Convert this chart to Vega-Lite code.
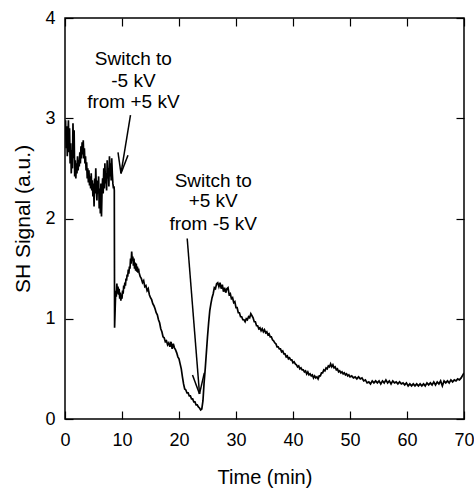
{
  "$schema": "https://vega.github.io/schema/vega-lite/v6.json",
  "width": 399,
  "height": 401,
  "autosize": "none",
  "padding": {"left": 65, "top": 18, "right": 10, "bottom": 69},
  "background": "white",
  "config": {
    "view": {"stroke": "black", "strokeWidth": 1.5},
    "axis": {
      "grid": false,
      "domain": false,
      "tickColor": "black",
      "tickSize": -8,
      "tickWidth": 1.2,
      "labelFlush": false,
      "labelFont": "Liberation Sans",
      "labelFontSize": 18,
      "labelColor": "black",
      "titleFont": "Liberation Sans",
      "titleFontSize": 20,
      "titleFontWeight": "normal",
      "titleColor": "black"
    }
  },
  "datasets": {
    "trace": [
      {"t":0.0,"v":2.85},{"t":0.1,"v":2.98},{"t":0.2,"v":2.70},{"t":0.3,"v":2.92},{"t":0.4,"v":2.62},{"t":0.5,"v":2.80},{"t":0.6,"v":2.98},{"t":0.7,"v":2.66},{"t":0.8,"v":2.90},{"t":0.9,"v":2.55},
      {"t":1.0,"v":2.75},{"t":1.1,"v":2.45},{"t":1.2,"v":2.68},{"t":1.3,"v":2.50},{"t":1.4,"v":2.95},{"t":1.5,"v":2.60},{"t":1.6,"v":2.88},{"t":1.7,"v":2.42},{"t":1.8,"v":2.58},{"t":1.9,"v":2.40},
      {"t":2.0,"v":2.55},{"t":2.1,"v":2.45},{"t":2.2,"v":2.62},{"t":2.3,"v":2.48},{"t":2.4,"v":2.58},{"t":2.5,"v":2.52},{"t":2.6,"v":2.66},{"t":2.7,"v":2.55},{"t":2.8,"v":2.72},{"t":2.9,"v":2.60},
      {"t":3.0,"v":2.76},{"t":3.1,"v":2.64},{"t":3.2,"v":2.78},{"t":3.3,"v":2.60},{"t":3.4,"v":2.70},{"t":3.5,"v":2.55},{"t":3.6,"v":2.62},{"t":3.7,"v":2.48},{"t":3.8,"v":2.56},{"t":3.9,"v":2.40},
      {"t":4.0,"v":2.50},{"t":4.1,"v":2.36},{"t":4.2,"v":2.48},{"t":4.3,"v":2.33},{"t":4.4,"v":2.42},{"t":4.5,"v":2.30},{"t":4.6,"v":2.45},{"t":4.7,"v":2.28},{"t":4.8,"v":2.38},{"t":4.9,"v":2.22},
      {"t":5.0,"v":2.35},{"t":5.1,"v":2.12},{"t":5.2,"v":2.40},{"t":5.3,"v":2.25},{"t":5.4,"v":2.50},{"t":5.5,"v":2.30},{"t":5.6,"v":2.18},{"t":5.7,"v":2.38},{"t":5.8,"v":2.25},{"t":5.9,"v":2.42},
      {"t":6.0,"v":2.10},{"t":6.1,"v":2.30},{"t":6.2,"v":2.05},{"t":6.3,"v":2.35},{"t":6.4,"v":2.02},{"t":6.5,"v":2.28},{"t":6.6,"v":2.40},{"t":6.7,"v":2.25},{"t":6.8,"v":2.50},{"t":6.9,"v":2.30},
      {"t":7.0,"v":2.55},{"t":7.1,"v":2.35},{"t":7.2,"v":2.45},{"t":7.3,"v":2.28},{"t":7.4,"v":2.58},{"t":7.5,"v":2.40},{"t":7.6,"v":2.50},{"t":7.7,"v":2.32},{"t":7.8,"v":2.62},{"t":7.9,"v":2.42},
      {"t":8.0,"v":2.55},{"t":8.1,"v":2.38},{"t":8.2,"v":2.60},{"t":8.3,"v":2.45},{"t":8.4,"v":2.35},{"t":8.5,"v":2.30},{"t":8.6,"v":2.32},{"t":8.65,"v":2.28},{"t":8.7,"v":0.91},{"t":8.8,"v":1.10},
      {"t":8.9,"v":1.28},{"t":9.0,"v":1.22},{"t":9.1,"v":1.35},{"t":9.2,"v":1.25},{"t":9.3,"v":1.32},{"t":9.4,"v":1.24},{"t":9.5,"v":1.30},{"t":9.6,"v":1.20},{"t":9.7,"v":1.26},{"t":9.8,"v":1.18},
      {"t":9.9,"v":1.24},{"t":10.0,"v":1.20},{"t":10.1,"v":1.28},{"t":10.2,"v":1.25},{"t":10.3,"v":1.33},{"t":10.4,"v":1.30},{"t":10.5,"v":1.36},{"t":10.6,"v":1.33},{"t":10.7,"v":1.40},{"t":10.8,"v":1.38},
      {"t":10.9,"v":1.44},{"t":11.0,"v":1.42},{"t":11.1,"v":1.49},{"t":11.2,"v":1.45},{"t":11.3,"v":1.52},{"t":11.4,"v":1.50},{"t":11.5,"v":1.60},{"t":11.6,"v":1.55},{"t":11.7,"v":1.67},{"t":11.8,"v":1.58},
      {"t":11.9,"v":1.62},{"t":12.0,"v":1.53},{"t":12.1,"v":1.60},{"t":12.2,"v":1.50},{"t":12.3,"v":1.56},{"t":12.4,"v":1.48},{"t":12.5,"v":1.55},{"t":12.6,"v":1.47},{"t":12.7,"v":1.52},{"t":12.8,"v":1.46},
      {"t":12.9,"v":1.50},{"t":13.0,"v":1.46},{"t":13.2,"v":1.42},{"t":13.4,"v":1.40},{"t":13.6,"v":1.36},{"t":13.8,"v":1.38},{"t":14.0,"v":1.32},{"t":14.2,"v":1.33},{"t":14.4,"v":1.28},{"t":14.6,"v":1.30},
      {"t":14.8,"v":1.24},{"t":15.0,"v":1.21},{"t":15.2,"v":1.19},{"t":15.4,"v":1.15},{"t":15.6,"v":1.13},{"t":15.8,"v":1.10},{"t":16.0,"v":1.06},{"t":16.2,"v":1.04},{"t":16.4,"v":0.99},{"t":16.6,"v":0.96},
      {"t":16.8,"v":0.90},{"t":17.0,"v":0.87},{"t":17.2,"v":0.82},{"t":17.4,"v":0.81},{"t":17.6,"v":0.77},{"t":17.8,"v":0.78},{"t":18.0,"v":0.74},{"t":18.2,"v":0.76},{"t":18.4,"v":0.72},{"t":18.6,"v":0.77},
      {"t":18.8,"v":0.70},{"t":19.0,"v":0.75},{"t":19.2,"v":0.71},{"t":19.4,"v":0.69},{"t":19.6,"v":0.66},{"t":19.8,"v":0.62},{"t":20.0,"v":0.60},{"t":20.2,"v":0.55},{"t":20.4,"v":0.50},{"t":20.6,"v":0.42},
      {"t":20.8,"v":0.35},{"t":21.0,"v":0.30},{"t":21.2,"v":0.29},{"t":21.4,"v":0.26},{"t":21.6,"v":0.26},{"t":21.8,"v":0.23},{"t":22.0,"v":0.23},{"t":22.2,"v":0.20},{"t":22.4,"v":0.20},{"t":22.6,"v":0.17},
      {"t":22.8,"v":0.17},{"t":23.0,"v":0.14},{"t":23.2,"v":0.14},{"t":23.4,"v":0.12},{"t":23.6,"v":0.11},{"t":23.8,"v":0.09},{"t":24.0,"v":0.10},{"t":24.2,"v":0.18},{"t":24.4,"v":0.36},{"t":24.6,"v":0.50},
      {"t":24.8,"v":0.66},{"t":25.0,"v":0.82},{"t":25.2,"v":0.96},{"t":25.4,"v":1.08},{"t":25.6,"v":1.15},{"t":25.8,"v":1.21},{"t":26.0,"v":1.25},{"t":26.2,"v":1.31},{"t":26.4,"v":1.30},{"t":26.6,"v":1.35},
      {"t":26.8,"v":1.36},{"t":27.0,"v":1.32},{"t":27.2,"v":1.36},{"t":27.4,"v":1.30},{"t":27.6,"v":1.34},{"t":27.8,"v":1.27},{"t":28.0,"v":1.31},{"t":28.2,"v":1.26},{"t":28.4,"v":1.30},{"t":28.6,"v":1.31},
      {"t":28.8,"v":1.24},{"t":29.0,"v":1.25},{"t":29.2,"v":1.20},{"t":29.4,"v":1.21},{"t":29.6,"v":1.16},{"t":29.8,"v":1.17},{"t":30.0,"v":1.11},{"t":30.2,"v":1.11},{"t":30.4,"v":1.06},{"t":30.6,"v":1.06},
      {"t":30.8,"v":1.02},{"t":31.0,"v":1.02},{"t":31.2,"v":0.99},{"t":31.4,"v":0.99},{"t":31.6,"v":0.97},{"t":31.8,"v":1.00},{"t":32.0,"v":0.99},{"t":32.2,"v":1.02},{"t":32.4,"v":1.01},{"t":32.6,"v":1.05},
      {"t":32.8,"v":1.03},{"t":33.0,"v":1.01},{"t":33.2,"v":0.97},{"t":33.4,"v":0.97},{"t":33.6,"v":0.93},{"t":33.8,"v":0.93},{"t":34.0,"v":0.90},{"t":34.2,"v":0.91},{"t":34.4,"v":0.88},{"t":34.6,"v":0.90},
      {"t":34.8,"v":0.87},{"t":35.0,"v":0.89},{"t":35.2,"v":0.86},{"t":35.4,"v":0.87},{"t":35.6,"v":0.84},{"t":35.8,"v":0.85},{"t":36.0,"v":0.82},{"t":36.2,"v":0.82},{"t":36.4,"v":0.79},{"t":36.6,"v":0.78},
      {"t":36.8,"v":0.76},{"t":37.0,"v":0.75},{"t":37.2,"v":0.72},{"t":37.4,"v":0.72},{"t":37.6,"v":0.70},{"t":37.8,"v":0.70},{"t":38.0,"v":0.67},{"t":38.2,"v":0.68},{"t":38.4,"v":0.65},{"t":38.6,"v":0.65},
      {"t":38.8,"v":0.62},{"t":39.0,"v":0.63},{"t":39.2,"v":0.60},{"t":39.4,"v":0.61},{"t":39.6,"v":0.59},{"t":39.8,"v":0.59},{"t":40.0,"v":0.56},{"t":40.2,"v":0.57},{"t":40.4,"v":0.55},{"t":40.6,"v":0.54},
      {"t":40.8,"v":0.52},{"t":41.0,"v":0.53},{"t":41.2,"v":0.50},{"t":41.4,"v":0.51},{"t":41.6,"v":0.49},{"t":41.8,"v":0.49},{"t":42.0,"v":0.47},{"t":42.2,"v":0.48},{"t":42.4,"v":0.45},{"t":42.6,"v":0.47},
      {"t":42.8,"v":0.44},{"t":43.0,"v":0.45},{"t":43.2,"v":0.43},{"t":43.4,"v":0.44},{"t":43.6,"v":0.41},{"t":43.8,"v":0.43},{"t":44.0,"v":0.41},{"t":44.2,"v":0.42},{"t":44.4,"v":0.40},{"t":44.6,"v":0.43},
      {"t":44.8,"v":0.43},{"t":45.0,"v":0.46},{"t":45.2,"v":0.46},{"t":45.4,"v":0.49},{"t":45.6,"v":0.48},{"t":45.8,"v":0.51},{"t":46.0,"v":0.50},{"t":46.2,"v":0.53},{"t":46.4,"v":0.52},{"t":46.6,"v":0.55},
      {"t":46.8,"v":0.52},{"t":47.0,"v":0.54},{"t":47.2,"v":0.51},{"t":47.4,"v":0.52},{"t":47.6,"v":0.49},{"t":47.8,"v":0.50},{"t":48.0,"v":0.47},{"t":48.2,"v":0.48},{"t":48.4,"v":0.46},{"t":48.6,"v":0.47},
      {"t":48.8,"v":0.45},{"t":49.0,"v":0.46},{"t":49.2,"v":0.44},{"t":49.4,"v":0.45},{"t":49.6,"v":0.43},{"t":49.8,"v":0.44},{"t":50.0,"v":0.42},{"t":50.3,"v":0.43},{"t":50.6,"v":0.41},{"t":50.9,"v":0.42},
      {"t":51.2,"v":0.40},{"t":51.5,"v":0.42},{"t":51.8,"v":0.40},{"t":52.1,"v":0.41},{"t":52.4,"v":0.38},{"t":52.7,"v":0.39},{"t":53.0,"v":0.36},{"t":53.3,"v":0.37},{"t":53.6,"v":0.35},{"t":53.9,"v":0.38},
      {"t":54.2,"v":0.36},{"t":54.5,"v":0.38},{"t":54.8,"v":0.36},{"t":55.1,"v":0.38},{"t":55.4,"v":0.35},{"t":55.7,"v":0.38},{"t":56.0,"v":0.36},{"t":56.3,"v":0.39},{"t":56.6,"v":0.36},{"t":56.9,"v":0.38},
      {"t":57.2,"v":0.35},{"t":57.5,"v":0.38},{"t":57.8,"v":0.36},{"t":58.1,"v":0.37},{"t":58.4,"v":0.35},{"t":58.7,"v":0.37},{"t":59.0,"v":0.35},{"t":59.3,"v":0.36},{"t":59.6,"v":0.34},{"t":59.9,"v":0.36},
      {"t":60.2,"v":0.33},{"t":60.5,"v":0.35},{"t":60.8,"v":0.33},{"t":61.1,"v":0.35},{"t":61.4,"v":0.33},{"t":61.7,"v":0.35},{"t":62.0,"v":0.33},{"t":62.3,"v":0.35},{"t":62.6,"v":0.33},{"t":62.9,"v":0.35},
      {"t":63.2,"v":0.33},{"t":63.5,"v":0.36},{"t":63.8,"v":0.34},{"t":64.1,"v":0.36},{"t":64.4,"v":0.34},{"t":64.7,"v":0.37},{"t":65.0,"v":0.34},{"t":65.3,"v":0.37},{"t":65.6,"v":0.35},{"t":65.9,"v":0.38},
      {"t":66.2,"v":0.33},{"t":66.5,"v":0.38},{"t":66.8,"v":0.36},{"t":67.1,"v":0.38},{"t":67.4,"v":0.36},{"t":67.7,"v":0.39},{"t":68.0,"v":0.37},{"t":68.3,"v":0.39},{"t":68.6,"v":0.38},{"t":68.9,"v":0.40},
      {"t":69.2,"v":0.39},{"t":69.5,"v":0.41},{"t":69.8,"v":0.44},{"t":70.0,"v":0.46}
    ],
    "arrows": [
      {"x1":11.49,"y1":3.03,"x2":9.82,"y2":2.45},
      {"x1":9.30,"y1":2.66,"x2":9.82,"y2":2.45},
      {"x1":11.05,"y1":2.63,"x2":9.82,"y2":2.45},
      {"x1":21.44,"y1":1.80,"x2":23.6,"y2":0.25},
      {"x1":22.37,"y1":0.44,"x2":23.6,"y2":0.25},
      {"x1":24.44,"y1":0.46,"x2":23.6,"y2":0.25}
    ],
    "notes": [
      {"tx":12.0,"ty":3.53,"label":"Switch to"},
      {"tx":12.0,"ty":3.31,"label":"-5 kV"},
      {"tx":12.0,"ty":3.10,"label":"from +5 kV"},
      {"tx":26.0,"ty":2.31,"label":"Switch to"},
      {"tx":26.0,"ty":2.11,"label":"+5 kV"},
      {"tx":26.0,"ty":1.89,"label":"from -5 kV"}
    ]
  },
  "layer": [
    {
      "data": {"name": "trace"},
      "mark": {"type": "line", "color": "black", "strokeWidth": 1.7, "clip": true},
      "encoding": {
        "x": {"field": "t", "type": "quantitative",
              "scale": {"domain": [0, 70], "nice": false},
              "axis": {"orient": "bottom", "values": [0,10,20,30,40,50,60,70], "title": "Time (min)", "labelPadding": 20, "titleY": 64, "titleBaseline": "alphabetic"}},
        "y": {"field": "v", "type": "quantitative",
              "scale": {"domain": [0, 4], "nice": false},
              "axis": {"orient": "left", "values": [0,1,2,3,4], "title": "SH Signal (a.u.)", "titleFontSize": 21, "labelPadding": 18, "titleX": -36, "titleBaseline": "alphabetic"}}
      }
    },
    {
      "data": {"name": "arrows"},
      "mark": {"type": "rule", "color": "black", "strokeWidth": 1.5},
      "encoding": {
        "x": {"field": "x1", "type": "quantitative",
              "axis": {"orient": "top", "values": [0,10,20,30,40,50,60,70], "labels": false, "title": null}},
        "y": {"field": "y1", "type": "quantitative",
              "axis": {"orient": "right", "values": [0,1,2,3,4], "labels": false, "title": null}},
        "x2": {"field": "x2"},
        "y2": {"field": "y2"}
      }
    },
    {
      "data": {"name": "notes"},
      "mark": {"type": "text", "font": "Liberation Sans", "fontSize": 19, "align": "center", "baseline": "alphabetic", "color": "black"},
      "encoding": {
        "x": {"field": "tx", "type": "quantitative", "axis": null},
        "y": {"field": "ty", "type": "quantitative", "axis": null},
        "text": {"field": "label"}
      }
    }
  ],
  "resolve": {"axis": {"x": "independent", "y": "independent"}}
}
